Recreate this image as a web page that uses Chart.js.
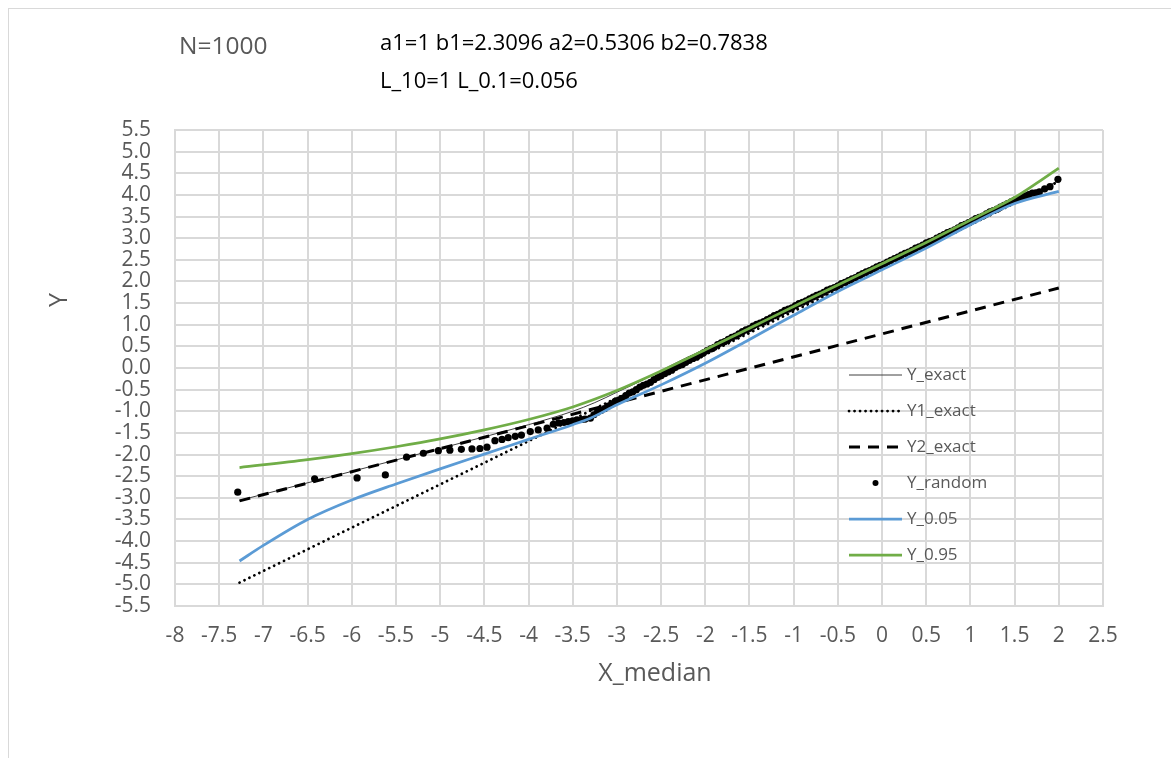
<!DOCTYPE html>
<html>
<head>
<meta charset="utf-8">
<script src="https://cdn.jsdelivr.net/npm/chart.js@4.4.1/dist/chart.umd.min.js"></script>
<style>
  html, body { margin: 0; padding: 0; background: #fff; overflow: hidden; }
  #wrap { position: relative; width: 1171px; height: 758px; }
  #frame { position: absolute; left: 8px; top: 8px; width: 1250px; height: 850px;
           border: 1.5px solid #d9d9d9; box-sizing: border-box; pointer-events: none; }
  canvas { position: absolute; left: 0; top: 0; }
</style>
</head>
<body>
<div id="wrap">
  <div id="frame"></div>
  <canvas id="chart" width="1171" height="758"></canvas>
</div>
<script>
// ---- header texts ----
const sampleLabel = 'N=1000';
const paramLines = ['a1=1 b1=2.3096 a2=0.5306 b2=0.7838', 'L_10=1 L_0.1=0.056'];
const xTitle = 'X_median';
const yTitle = 'Y';

// ---- tick labels ----
const xTickLabels = ['-8','-7.5','-7','-6.5','-6','-5.5','-5','-4.5','-4','-3.5','-3','-2.5',
                     '-2','-1.5','-1','-0.5','0','0.5','1','1.5','2','2.5'];
const yTickLabels = ['-5.5','-5.0','-4.5','-4.0','-3.5','-3.0','-2.5','-2.0','-1.5','-1.0','-0.5',
                     '0.0','0.5','1.0','1.5','2.0','2.5','3.0','3.5','4.0','4.5','5.0','5.5'];

// ---- series names ----
const seriesNames = ['Y_exact', 'Y1_exact', 'Y2_exact', 'Y_random', 'Y_0.05', 'Y_0.95'];

// Y_exact
const xExact = [-7.27, -6.0, -5.0, -4.5, -4.0, -3.5, -3.25, -3.0, -2.75, -2.5, -2.25, -2.0,
                -1.5, -1.0, -0.5, 0.0, 0.5, 1.0, 1.5, 2.0];
const yExact = [-3.06, -2.39, -1.86, -1.59, -1.31, -1.00, -0.80, -0.56, -0.32, -0.06, 0.20, 0.44,
                0.93, 1.41, 1.89, 2.37, 2.86, 3.35, 3.84, 4.33];

// Y1_exact
const xY1 = [-7.27, 2.0];
const yY1 = [-4.96, 4.31];

// Y2_exact
const xY2 = [-7.27, 2.0];
const yY2 = [-3.07, 1.85];

// Y_random
const xRandom = [-7.29, -6.42, -5.94, -5.62, -5.38, -5.19, -5.02, -4.89, -4.76, -4.64, -4.55, -4.47,
  -4.38, -4.30, -4.23, -4.15, -4.08, -3.98, -3.89, -3.79, -3.72, -3.66, -3.60, -3.55, -3.50, -3.45,
  -3.40, -3.36, -3.30, -3.26, -3.22, -3.18, -3.14, -3.10, -3.06, -3.02, -2.98, -2.94, -2.90, -2.86,
  -2.82, -2.78, -2.74, -2.70, -2.66, -2.62, -2.58, -2.54, -2.50, -2.46, -2.42, -2.38, -2.34, -2.30,
  -2.26, -2.22, -2.18, -2.14, -2.10, -2.06, -2.02, -1.98, -1.94, -1.90, -1.86, -1.82, -1.78, -1.74,
  -1.70, -1.66, -1.62, -1.58, -1.54, -1.50, -1.46, -1.42, -1.38, -1.34, -1.30, -1.26, -1.22, -1.18,
  -1.14, -1.10, -1.06, -1.02, -0.98, -0.94, -0.90, -0.86, -0.82, -0.78, -0.74, -0.70, -0.66, -0.62,
  -0.58, -0.54, -0.50, -0.46, -0.42, -0.38, -0.34, -0.30, -0.26, -0.22, -0.18, -0.14, -0.10, -0.06,
  -0.02, 0.02, 0.06, 0.10, 0.14, 0.18, 0.22, 0.26, 0.30, 0.34, 0.38, 0.42, 0.46, 0.50, 0.54, 0.58,
  0.62, 0.66, 0.70, 0.74, 0.78, 0.82, 0.86, 0.90, 0.94, 0.98, 1.02, 1.06, 1.10, 1.14, 1.18, 1.22,
  1.26, 1.30, 1.34, 1.38, 1.42, 1.46, 1.50, 1.54, 1.58, 1.62, 1.66, 1.70, 1.74, 1.78, 1.84, 1.90, 1.99];
const yRandom = [-2.87, -2.56, -2.54, -2.47, -2.06, -1.97, -1.91, -1.90, -1.88, -1.87, -1.86, -1.83,
  -1.68, -1.65, -1.61, -1.58, -1.55, -1.47, -1.43, -1.39, -1.30, -1.27, -1.26, -1.24, -1.22, -1.20,
  -1.19, -1.18, -1.16, -1.08, -1.02, -0.98, -0.94, -0.88, -0.83, -0.77, -0.74, -0.70, -0.64, -0.58,
  -0.55, -0.50, -0.44, -0.40, -0.37, -0.33, -0.27, -0.22, -0.18, -0.13, -0.09, -0.05, 0.01, 0.05,
  0.08, 0.13, 0.18, 0.22, 0.25, 0.30, 0.35, 0.40, 0.44, 0.48, 0.54, 0.58, 0.61, 0.66, 0.71, 0.74,
  0.79, 0.84, 0.88, 0.91, 0.97, 1.01, 1.04, 1.07, 1.12, 1.16, 1.21, 1.24, 1.28, 1.33, 1.36, 1.39,
  1.44, 1.49, 1.52, 1.55, 1.60, 1.64, 1.68, 1.71, 1.75, 1.80, 1.83, 1.86, 1.90, 1.95, 1.98, 2.02,
  2.06, 2.09, 2.14, 2.18, 2.22, 2.25, 2.29, 2.34, 2.37, 2.40, 2.45, 2.49, 2.53, 2.56, 2.61, 2.65,
  2.68, 2.72, 2.77, 2.80, 2.84, 2.89, 2.92, 2.95, 3.00, 3.04, 3.08, 3.13, 3.16, 3.19, 3.24, 3.29,
  3.32, 3.36, 3.40, 3.45, 3.48, 3.51, 3.56, 3.61, 3.64, 3.67, 3.72, 3.76, 3.80, 3.84, 3.88, 3.90,
  3.95, 3.98, 4.01, 4.04, 4.05, 4.07, 4.14, 4.19, 4.36];

// Y_0.05
const xLow = [-7.27, -7.0, -6.5, -6.0, -5.5, -5.0, -4.5, -4.0, -3.5, -3.3, -3.0, -2.5, -2.0,
              -1.5, -1.0, -0.5, 0.0, 0.5, 1.0, 1.5, 2.0];
const yLow = [-4.46, -4.10, -3.50, -3.05, -2.68, -2.33, -1.99, -1.65, -1.31, -1.16, -0.85, -0.39, 0.11,
              0.66, 1.22, 1.77, 2.27, 2.77, 3.31, 3.80, 4.08];

// Y_0.95
const xHigh = [-7.27, -6.5, -6.0, -5.5, -5.0, -4.5, -4.0, -3.5, -3.0, -2.5, -2.0, -1.5, -1.0,
               -0.5, 0.0, 0.5, 1.0, 1.5, 1.75, 2.0];
const yHigh = [-2.30, -2.12, -1.98, -1.82, -1.64, -1.43, -1.19, -0.90, -0.52, -0.07, 0.42, 0.92, 1.42,
               1.92, 2.41, 2.90, 3.42, 3.94, 4.27, 4.62];

const FONT = '"Open Sans", "DejaVu Sans", sans-serif';
const GREY = '#595959';
const GRID = '#d9d9d9';

const pts = (xs, ys) => xs.map((x, i) => ({ x: x, y: ys[i] }));

const datasets = [
  { label: seriesNames[0], data: pts(xExact, yExact), showLine: true, borderColor: '#404040',
    borderWidth: 1, pointRadius: 0, cubicInterpolationMode: 'monotone', order: 5 },
  { label: seriesNames[1], data: pts(xY1, yY1), showLine: true, borderColor: '#000',
    borderWidth: 2.75, borderDash: [0.1, 5.4], borderCapStyle: 'round', pointRadius: 0, order: 4 },
  { label: seriesNames[2], data: pts(xY2, yY2), showLine: true, borderColor: '#000',
    borderWidth: 3, borderDash: [11, 8], pointRadius: 0, order: 3 },
  { label: seriesNames[3], data: pts(xRandom, yRandom), showLine: false, pointRadius: 3.6,
    pointBackgroundColor: '#000', pointBorderWidth: 0, borderColor: '#000', order: 2 },
  { label: seriesNames[4], data: pts(xLow, yLow), showLine: true, borderColor: '#5b9bd5',
    borderWidth: 2.75, pointRadius: 0, cubicInterpolationMode: 'monotone', order: 1 },
  { label: seriesNames[5], data: pts(xHigh, yHigh), showLine: true, borderColor: '#70ad47',
    borderWidth: 2.75, pointRadius: 0, cubicInterpolationMode: 'monotone', order: 0 }
];

// Free texts: header lines and axis titles
const textPlugin = {
  id: 'texts',
  afterDraw(chart) {
    const ctx = chart.ctx;
    ctx.save();
    ctx.textBaseline = 'middle';
    ctx.textAlign = 'left';
    ctx.fillStyle = GREY;
    ctx.font = '24.5px ' + FONT;
    ctx.fillText(sampleLabel, 179, 47);
    ctx.fillStyle = '#000';
    ctx.font = '22px ' + FONT;
    ctx.fillText(paramLines[0], 380, 44);
    ctx.fillText(paramLines[1], 380, 82);
    ctx.fillStyle = GREY;
    ctx.font = '25px ' + FONT;
    ctx.textAlign = 'center';
    ctx.fillText(xTitle, 655, 674);
    ctx.translate(60, 300);
    ctx.rotate(-Math.PI / 2);
    ctx.fillText(yTitle, 0, 0);
    ctx.restore();
  }
};

// Legend drawn inside the plot area, over the grid
const legendPlugin = {
  id: 'insideLegend',
  afterDraw(chart) {
    const ctx = chart.ctx;
    const rows = [375, 411, 447, 483, 519, 555];
    const x0 = 849, x1 = 902, tx = 907;
    ctx.save();
    chart.data.datasets.forEach((ds, i) => {
      const y = rows[i];
      if (ds.showLine) {
        ctx.beginPath();
        ctx.strokeStyle = ds.borderColor;
        ctx.lineWidth = ds.borderWidth;
        ctx.setLineDash(ds.borderDash || []);
        ctx.lineCap = ds.borderCapStyle || 'butt';
        ctx.moveTo(x0, y);
        ctx.lineTo(x1, y);
        ctx.stroke();
      } else {
        ctx.beginPath();
        ctx.fillStyle = ds.pointBackgroundColor;
        ctx.arc((x0 + x1) / 2, y, 3, 0, Math.PI * 2);
        ctx.fill();
      }
      ctx.setLineDash([]);
      ctx.fillStyle = GREY;
      ctx.font = '17px ' + FONT;
      ctx.textBaseline = 'middle';
      ctx.textAlign = 'left';
      ctx.fillText(ds.label, tx, y);
    });
    ctx.restore();
  }
};

new Chart(document.getElementById('chart'), {
  type: 'scatter',
  data: { datasets: datasets },
  options: {
    responsive: false,
    animation: false,
    devicePixelRatio: 1,
    layout: { padding: { left: 0, right: 68, top: 130, bottom: 0 } },
    plugins: { legend: { display: false }, tooltip: { enabled: false } },
    scales: {
      x: {
        type: 'linear', min: -8, max: 2.5,
        ticks: { stepSize: 0.5, autoSkip: false, maxRotation: 0, padding: 17, color: GREY,
                 font: { family: FONT, size: 21 }, callback: (v, i) => xTickLabels[i] },
        grid: { color: GRID, lineWidth: 2, drawTicks: false },
        border: { color: GRID, width: 2 },
        afterFit(s) { s.height = 152; }
      },
      y: {
        type: 'linear', min: -5.5, max: 5.5,
        ticks: { stepSize: 0.5, autoSkip: false, padding: 24, color: GREY,
                 font: { family: FONT, size: 21 }, callback: (v, i) => yTickLabels[i] },
        grid: { color: GRID, lineWidth: 2, drawTicks: false },
        border: { color: GRID, width: 2 },
        afterFit(s) { s.width = 175; }
      }
    }
  },
  plugins: [textPlugin, legendPlugin]
});
</script>
</body>
</html>
